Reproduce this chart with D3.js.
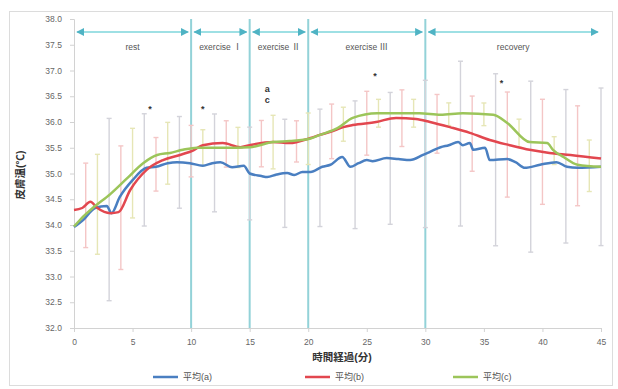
<!DOCTYPE html>
<html>
<head>
<meta charset="utf-8">
<script src="https://cdn.jsdelivr.net/npm/d3@7"></script>
<style>
  html, body { margin: 0; padding: 0; background: #fff; }
  svg { display: block; }
  text { font-family: "Liberation Sans", "Noto Sans CJK JP", sans-serif; }
</style>
</head>
<body>
<script>
// Skin temperature over time, three groups (mean ± SD)
const xTicks = [0, 5, 10, 15, 20, 25, 30, 35, 40, 45];
const yTicks = [32.0, 32.5, 33.0, 33.5, 34.0, 34.5, 35.0, 35.5, 36.0, 36.5, 37.0, 37.5, 38.0];

const seriesNames = ["平均(a)", "平均(b)", "平均(c)"];

const timeA = [0, 0.8, 1.8, 2.8, 3.2, 3.9, 5, 6.2, 7, 8, 8.8, 9.9, 11, 11.8, 12.5, 13.5, 14.5, 15, 16, 16.5, 17.3, 18.2, 18.8, 19.5, 20.2, 21.2, 21.9, 22.9, 23.6, 24.3, 25, 25.5, 26.7, 27.7, 28.7, 29.8, 30.4, 31.3, 32, 32.8, 33.2, 33.8, 34.1, 35.1, 35.5, 37, 37.7, 38.5, 39.8, 41.2, 42.1, 43, 45];
const tempA = [33.96, 34.1, 34.33, 34.37, 34.23, 34.54, 34.87, 35.11, 35.13, 35.2, 35.22, 35.2, 35.15, 35.2, 35.22, 35.12, 35.15, 35.0, 34.95, 34.93, 34.98, 35.01, 34.97, 35.03, 35.03, 35.13, 35.17, 35.32, 35.13, 35.2, 35.26, 35.24, 35.3, 35.28, 35.26, 35.36, 35.42, 35.51, 35.55, 35.61, 35.55, 35.59, 35.46, 35.5, 35.26, 35.28, 35.22, 35.11, 35.17, 35.22, 35.13, 35.11, 35.13];

const timeB = [0, 0.7, 1.4, 2, 3.1, 3.8, 4.8, 6.2, 7.6, 9.05, 10.2, 11, 12.7, 14.2, 15, 17, 18.4, 20.2, 21, 21.9, 23, 23.8, 25.8, 27.5, 29.2, 30.4, 32.1, 33.8, 35.5, 37.2, 38.9, 40.6, 42.4, 45];
const tempB = [34.29, 34.33, 34.45, 34.33, 34.23, 34.25, 34.68, 35.07, 35.26, 35.36, 35.45, 35.55, 35.59, 35.51, 35.55, 35.61, 35.59, 35.69, 35.75, 35.81, 35.9, 35.94, 36.0, 36.08, 36.06, 36.0, 35.9, 35.79, 35.65, 35.55, 35.46, 35.4, 35.36, 35.29];

const timeC = [0, 0.6, 1.6, 3.1, 4.5, 5.9, 7.1, 8.2, 9.3, 10.5, 12.7, 15, 17, 18.4, 20.2, 21, 22.5, 23.8, 25.9, 28.1, 29.5, 31.3, 33.2, 35.8, 37, 38.9, 40.4, 40.9, 41.8, 43, 45];
const tempC = [33.97, 34.12, 34.33, 34.6, 34.9, 35.2, 35.36, 35.4, 35.46, 35.5, 35.5, 35.51, 35.61, 35.63, 35.68, 35.75, 35.88, 36.08, 36.17, 36.17, 36.17, 36.14, 36.17, 36.14, 35.98, 35.61, 35.59, 35.46, 35.32, 35.17, 35.13];

// standard deviations, drawn at whole minutes (each group every third minute)
const sdTimeA = [3, 6, 9, 12, 15, 18, 21, 24, 27, 30, 33, 36, 39, 42, 45];
const sdA = [1.77, 1.09, 0.89, 0.95, 0.9, 1.05, 1.14, 1.24, 1.28, 1.43, 1.6, 1.67, 1.66, 1.49, 1.53];
const sdTimeB = [1, 4, 7, 10, 13, 16, 19, 22, 25, 28, 31, 34, 37, 40, 43];
const sdB = [0.82, 1.2, 0.52, 0.5, 0.45, 0.45, 0.4, 0.53, 0.62, 0.55, 0.57, 0.73, 1.02, 1.02, 0.97];
const sdTimeC = [2, 5, 8, 11, 14, 17, 20, 23, 26, 29, 32, 35, 38, 41, 44];
const sdC = [0.97, 0.87, 0.6, 0.35, 0.39, 0.52, 0.5, 0.33, 0.27, 0.27, 0.22, 0.22, 0.27, 0.27, 0.5];

const phaseNames = ["rest", "exercise Ⅰ", "exercise Ⅱ", "exercise Ⅲ", "recovery"];
const phaseBounds = [0, 10, 15, 20, 30, 45];

const markTimes = [6.5, 11, 16.5, 16.5, 25.7, 36.5];
const markTemps = [36.27, 36.27, 36.66, 36.45, 36.91, 36.78];
const markTexts = ["*", "*", "a", "c", "*", "*"];

const W = 618, H = 389;
const svg = d3.select("body").append("svg").attr("width", W).attr("height", H);

// outer frame
svg.append("rect").attr("x", 9.5).attr("y", 11.5).attr("width", 603).attr("height", 374)
  .attr("fill", "none").attr("stroke", "#dcdcdc");

const x = d3.scaleLinear().domain([0, 45]).range([74, 601]);
const y = d3.scaleLinear().domain([32, 38]).range([328, 19]);

// axes
const xAxis = svg.append("g").attr("transform", `translate(0,${y(32)})`)
  .call(d3.axisBottom(x).tickValues(xTicks).tickSize(4).tickFormat(d3.format("d")));
const yAxis = svg.append("g").attr("transform", `translate(${x(0)},0)`)
  .call(d3.axisLeft(y).tickValues(yTicks).tickSize(4).tickFormat(d3.format(".1f")));
[xAxis, yAxis].forEach(g => {
  g.select(".domain").attr("stroke", "#d2d2d2");
  g.selectAll(".tick line").attr("stroke", "#d2d2d2");
  g.selectAll("text").attr("fill", "#666").attr("font-size", 8.5);
});
xAxis.selectAll("text").attr("dy", "1.2em");
yAxis.selectAll("text").attr("dx", "-0.6em");

// phase boundaries
svg.append("g").selectAll("line").data(phaseBounds.slice(1, -1)).join("line")
  .attr("x1", d => x(d)).attr("x2", d => x(d))
  .attr("y1", y(38)).attr("y2", y(32))
  .attr("stroke", "#93d2d8").attr("stroke-width", 2);

// error bars
const bars = [
  { t: sdTimeA, sd: sdA, time: timeA, temp: tempA, color: "#d3d3da" },
  { t: sdTimeB, sd: sdB, time: timeB, temp: tempB, color: "#f4c6c6" },
  { t: sdTimeC, sd: sdC, time: timeC, temp: tempC, color: "#e6e6b6" }
];
const meanAt = (time, temp, t) => {
  const i = d3.bisectLeft(time, t);
  if (i <= 0) return temp[0];
  if (i >= time.length) return temp[temp.length - 1];
  const f = (t - time[i - 1]) / (time[i] - time[i - 1]);
  return temp[i - 1] + f * (temp[i] - temp[i - 1]);
};
const eg = svg.append("g");
bars.forEach(s => {
  s.t.forEach((t, i) => {
    const m = meanAt(s.time, s.temp, t);
    const lo = m - s.sd[i], hi = m + s.sd[i];
    const g = eg.append("g").attr("stroke", s.color).attr("stroke-width", 1.4);
    g.append("line").attr("x1", x(t)).attr("x2", x(t)).attr("y1", y(lo)).attr("y2", y(hi));
    g.append("line").attr("x1", x(t) - 2.5).attr("x2", x(t) + 2.5).attr("y1", y(lo)).attr("y2", y(lo));
    g.append("line").attr("x1", x(t) - 2.5).attr("x2", x(t) + 2.5).attr("y1", y(hi)).attr("y2", y(hi));
  });
});

// mean lines
const line = d3.line().x(d => x(d[0])).y(d => y(d[1])).curve(d3.curveMonotoneX);
const lines = [
  { time: timeA, temp: tempA, color: "#4a7fc1" },
  { time: timeB, temp: tempB, color: "#e2474f" },
  { time: timeC, temp: tempC, color: "#9cc55a" }
];
lines.forEach(s => {
  svg.append("path").datum(s.time.map((t, i) => [t, s.temp[i]]))
    .attr("d", line).attr("fill", "none").attr("stroke", s.color)
    .attr("stroke-width", 2.5).attr("stroke-linejoin", "round");
});

// phase arrows and names
const arrowY = 32;
const defs = svg.append("defs");
defs.append("marker").attr("id", "ah").attr("viewBox", "0 0 10 10").attr("refX", 9).attr("refY", 5)
  .attr("markerWidth", 4).attr("markerHeight", 4).attr("orient", "auto-start-reverse")
  .append("path").attr("d", "M0,0 L10,5 L0,10 z").attr("fill", "#4fb3c4");
const pg = svg.append("g");
phaseNames.forEach((name, i) => {
  const a = x(phaseBounds[i]) + 3, b = x(phaseBounds[i + 1]) - 3;
  pg.append("line").attr("x1", a).attr("x2", b).attr("y1", arrowY).attr("y2", arrowY)
    .attr("stroke", "#9ee0e4").attr("stroke-width", 2)
    .attr("marker-start", "url(#ah)").attr("marker-end", "url(#ah)");
  pg.append("text").attr("x", (x(phaseBounds[i]) + x(phaseBounds[i + 1])) / 2).attr("y", 50)
    .attr("text-anchor", "middle").attr("font-size", 8.5).attr("fill", "#555").text(name);
});

// significance marks
svg.append("g").selectAll("text").data(markTimes).join("text")
  .attr("x", d => x(d)).attr("y", (d, i) => y(markTemps[i]) + 4)
  .attr("text-anchor", "middle").attr("font-size", 9).attr("font-weight", "bold")
  .attr("fill", "#333").text((d, i) => markTexts[i]);

// axis titles
svg.append("text").attr("x", 342).attr("y", 361).attr("text-anchor", "middle")
  .attr("font-size", 10.5).attr("font-weight", "bold").attr("fill", "#333")
  .attr("font-family", "Noto Sans CJK JP").text("時間経過(分)");
svg.append("text").attr("transform", "translate(24,175) rotate(-90)").attr("text-anchor", "middle")
  .attr("font-size", 10.5).attr("font-weight", "bold").attr("fill", "#333")
  .attr("font-family", "Noto Sans CJK JP").text("皮膚温(℃)");

// legend
const legendX = [153, 305, 453];
const lg = svg.append("g");
seriesNames.forEach((n, i) => {
  lg.append("line").attr("x1", legendX[i]).attr("x2", legendX[i] + 25).attr("y1", 377).attr("y2", 377)
    .attr("stroke", lines[i].color).attr("stroke-width", 2.5);
  lg.append("text").attr("x", legendX[i] + 30).attr("y", 380).attr("font-size", 9).attr("fill", "#555")
    .attr("font-family", "Noto Sans CJK JP").text(n);
});
</script>
</body>
</html>
